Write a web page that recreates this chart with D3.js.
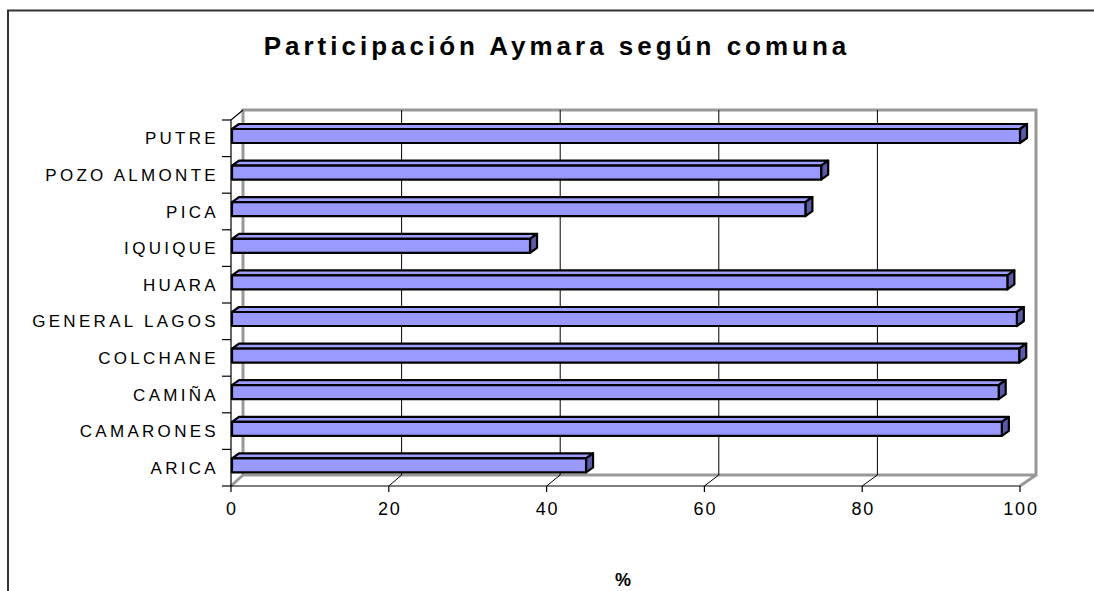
<html>
<style>
body { margin: 0; background: #fff; }
text { font-family: "Liberation Sans", Arial, sans-serif; fill: #000; }
</style>
<svg width="1094" height="591"></svg>
<script src="https://d3js.org/d3.v7.min.js"></script>
<script>

var categories = ["ARICA", "CAMARONES", "CAMIÑA", "COLCHANE", "GENERAL LAGOS",
                  "HUARA", "IQUIQUE", "PICA", "POZO ALMONTE", "PUTRE"];
var values = [45.0, 97.7, 97.3, 99.9, 99.6, 98.4, 37.9, 72.8, 74.8, 100];
var xTicks = [0, 20, 40, 60, 80, 100];
var title = "Participación Aymara según comuna";
var xLabel = "%";

var svg = d3.select("svg");

// frame
svg.append("path")
    .attr("d", "M8,591 V10.5 H1094")
    .attr("fill", "none")
    .attr("stroke", "#333")
    .attr("stroke-width", 2);

var front = {left: 231, right: 1020, top: 120, bottom: 486},
    back = {left: 243, right: 1036, top: 110, bottom: 475};

var xf = d3.scaleLinear().domain([0, 100]).range([front.left, front.right]);
var xb = d3.scaleLinear().domain([0, 100]).range([back.left, back.right]);
var y = d3.scaleBand().domain(categories).range([front.bottom, front.top]);

// back wall
var wall = svg.append("g").attr("fill", "none");
wall.append("path")
    .attr("d", "M" + back.left + "," + back.bottom + " V" + back.top + " H" + back.right + " V" + back.bottom + " H" + back.left
      + " M" + front.left + "," + front.bottom + " L" + back.left + "," + back.bottom
      + " M" + front.right + "," + front.bottom + " L" + back.right + "," + back.bottom)
    .attr("stroke", "#999")
    .attr("stroke-width", 3);

// grid
var grid = svg.append("g").attr("stroke", "#000").attr("stroke-width", 1).attr("fill", "none");
grid.selectAll("path")
  .data(xTicks.slice(1, -1))
  .enter().append("path")
    .attr("d", function(d) {
      return "M" + xf(d) + "," + front.bottom + " L" + xb(d) + "," + back.bottom + " V" + back.top;
    });

// axes
var ax = svg.append("g").attr("stroke", "#000").attr("fill", "none").attr("stroke-width", 1.2);
ax.append("path")
    .attr("d", "M" + back.left + "," + back.top + " L" + front.left + "," + front.top
      + " V" + front.bottom + " H" + front.right);
ax.selectAll(".yt")
  .data(categories.concat([null]))
  .enter().append("path")
    .attr("d", function(d, i) {
      var yy = front.bottom - i * y.bandwidth();
      return "M" + (front.left - 9) + "," + yy + " H" + front.left;
    });
ax.selectAll(".xt")
  .data(xTicks)
  .enter().append("path")
    .attr("d", function(d) { return "M" + xf(d) + "," + front.bottom + " V" + (front.bottom + 6); });

// bars
var dx = 7, dy = 5;
var bars = svg.append("g").attr("stroke", "#000").attr("stroke-width", 2.2).attr("stroke-linejoin", "round");
categories.forEach(function(c, i) {
  var x0 = xf(0) + 1, x1 = xf(values[i]),
      yt = y(c) + 9, yb = y(c) + 23;
  bars.append("path")
      .attr("d", "M" + x0 + "," + yt + " L" + (x0 + dx) + "," + (yt - dy) + " H" + (x1 + dx) + " L" + x1 + "," + yt + "Z")
      .attr("fill", "#9e9eff");
  bars.append("path")
      .attr("d", "M" + x1 + "," + yt + " L" + (x1 + dx) + "," + (yt - dy) + " V" + (yb - dy) + " L" + x1 + "," + yb + "Z")
      .attr("fill", "#5a5aa8");
  bars.append("rect")
      .attr("x", x0).attr("y", yt)
      .attr("width", x1 - x0).attr("height", yb - yt)
      .attr("fill", "#9999ff");
});

// labels
svg.append("g").selectAll("text")
  .data(categories)
  .enter().append("text")
    .attr("x", 219)
    .attr("y", function(d) { return y(d) + y.bandwidth() / 2 + 6; })
    .attr("text-anchor", "end")
    .style("font-size", "17px")
    .style("letter-spacing", "3.3px")
    .text(function(d) { return d; });

svg.append("g").selectAll("text")
  .data(xTicks)
  .enter().append("text")
    .attr("x", function(d) { return xf(d) + 1; })
    .attr("y", 515)
    .attr("text-anchor", "middle")
    .style("font-size", "18px")
    .style("letter-spacing", "1.8px")
    .text(function(d) { return d; });

svg.append("text")
    .attr("x", 557).attr("y", 55)
    .attr("text-anchor", "middle")
    .style("font-size", "26px")
    .style("font-weight", "bold")
    .style("letter-spacing", "4px")
    .text(title);

svg.append("text")
    .attr("x", 623).attr("y", 586)
    .attr("text-anchor", "middle")
    .style("font-size", "18px")
    .style("font-weight", "bold")
    .text(xLabel);

</script>
</html>
